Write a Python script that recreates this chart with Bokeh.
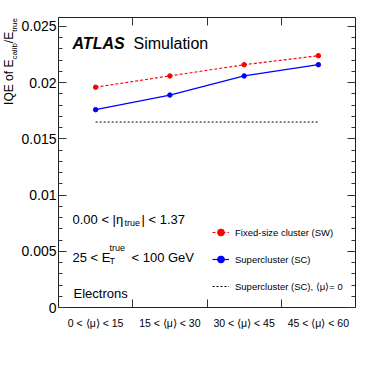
import numpy as np
from bokeh.plotting import figure
from bokeh.layouts import row
from bokeh.models import (Range1d, LinearAxis, FixedTicker, CustomJSTickFormatter,
                          Label, Legend, LegendItem, Div)
from bokeh.embed import file_html
from bokeh.resources import INLINE

# ---- data ----
categories = ["0 < \u27e8\u03bc\u27e9 < 15", "15 < \u27e8\u03bc\u27e9 < 30",
              "30 < \u27e8\u03bc\u27e9 < 45", "45 < \u27e8\u03bc\u27e9 < 60"]
sw_iqe = [0.0196, 0.0206, 0.0216, 0.0224]
sc_iqe = [0.0176, 0.0189, 0.0206, 0.0216]
sc_mu0_iqe = [0.0165, 0.0165, 0.0165, 0.0165]
y_ticks = [0, 0.005, 0.01, 0.015, 0.02, 0.025]
y_minor = [round(i * 0.001, 3) for i in range(26)]

x = [i + 0.5 for i in range(len(categories))]
bounds = list(range(1, len(categories)))

FONT = "Liberation Sans"
DIV_W = 18
AXIS_W = 42          # actual width taken by the left axis panel
W, H = 354, 345
ML, MR, MT, MB = 38, 17, 17, 38
FL = DIV_W + AXIS_W  # frame left, page px (template has no body margin)
FB = H - MB          # frame bottom, page px

p = figure(width=W, height=H, x_range=Range1d(0, len(categories)), y_range=Range1d(0, 0.0258),
           output_backend="svg", toolbar_location=None,
           x_axis_location=None, y_axis_location=None,
           min_border_left=ML, min_border_right=MR, min_border_top=MT, min_border_bottom=MB)
p.xgrid.visible = False
p.ygrid.visible = False
p.outline_line_color = "#222222"
p.outline_line_width = 1
p.background_fill_color = "white"
p.border_fill_color = "white"

blank = CustomJSTickFormatter(code="return ''")

def x_axis(with_labels):
    ax = LinearAxis(ticker=FixedTicker(ticks=x, minor_ticks=bounds),
                    axis_line_color=None, major_tick_line_color=None,
                    minor_tick_in=8, minor_tick_out=0, minor_tick_line_color="#333333",
                    major_label_text_font=FONT, major_label_text_font_size="10.5px",
                    major_label_text_color="black", major_label_standoff=3)
    if with_labels:
        ax.formatter = CustomJSTickFormatter(args=dict(labels=categories),
                                             code="return labels[Math.floor(tick)]")
    else:
        ax.formatter = blank
        ax.major_label_standoff = 0
    return ax

def y_axis(with_labels):
    ax = LinearAxis(ticker=FixedTicker(ticks=y_ticks, minor_ticks=y_minor),
                    axis_line_color=None,
                    major_tick_in=8, major_tick_out=0, major_tick_line_color="#333333",
                    minor_tick_in=4, minor_tick_out=0, minor_tick_line_color="#333333",
                    major_label_text_font=FONT, major_label_text_font_size="14px",
                    major_label_text_color="black", major_label_standoff=2)
    if with_labels:
        ax.formatter = CustomJSTickFormatter(code="return tick.toString()")
    else:
        ax.formatter = blank
        ax.major_label_standoff = 0
    return ax

p.add_layout(x_axis(True), "below")
p.add_layout(x_axis(False), "above")
p.add_layout(y_axis(True), "left")
p.add_layout(y_axis(False), "right")

# ---- series ----
r_sw_l = p.line(x, sw_iqe, line_color="red", line_dash="3 2", line_width=1.2)
r_sw_p = p.scatter(x, sw_iqe, size=4.5, color="red")
r_sc_l = p.line(x, sc_iqe, line_color="blue", line_width=1.2)
r_sc_p = p.scatter(x, sc_iqe, size=4.5, color="blue")
r_mu0 = p.line(x, sc_mu0_iqe, line_color="black", line_dash="2 2", line_width=1)

legend = Legend(items=[
    LegendItem(label="Fixed-size cluster (SW)", renderers=[r_sw_l, r_sw_p]),
    LegendItem(label="Supercluster (SC)", renderers=[r_sc_l, r_sc_p]),
    LegendItem(label="Supercluster (SC), \u27e8\u03bc\u27e9= 0", renderers=[r_mu0]),
], location=(154, 11), border_line_color=None, background_fill_alpha=0,
   label_text_font=FONT, label_text_font_size="9.5px", label_text_color="black",
   glyph_width=17, glyph_height=20, label_height=20, spacing=7,
   padding=0, margin=0, label_standoff=6)
p.add_layout(legend)

def txt(text, px, py, size, style="normal"):
    p.add_layout(Label(x=px - FL, y=FB - py, x_units="screen", y_units="screen",
                       text=text, text_font=FONT, text_font_size=f"{size}px",
                       text_font_style=style, text_align="left",
                       text_baseline="alphabetic", text_color="black"))

# ATLAS label
txt("ATLAS", 74, 43.3, 16, style="bold italic")
txt("Simulation", 135, 43.3, 16)

# eta range
txt("0.00 < |\u03b7", 74, 219, 13)
txt("true", 126, 222.5, 9)
txt("| < 1.37", 143, 219, 13)

# ET range
txt("25 < E", 74, 256.5, 13)
txt("T", 111, 260, 9)
txt("true", 111, 247.5, 9)
txt("< 100 GeV", 133, 256.5, 13)

txt("Electrons", 75, 292.5, 13)

# rotated y-axis title (HTML text with subscripts), right-aligned to frame top
sub = "font-size:8px; vertical-align:-4px;"
ytitle = Div(
    width=DIV_W, height=H,
    text=(
        '<div style="width:100px; height:14px; line-height:14px; white-space:nowrap; '
        "text-align:right; font-family:'Liberation Sans'; font-size:12px; color:black; "
        'transform-origin:0 0; transform:translate(2px, 117px) rotate(-90deg);">'
        f'IQE of E<span style="{sub}">calib</span>/E<span style="{sub}">true</span></div>'
    ),
    styles={"margin": "0", "padding": "0", "overflow": "visible"},
)

layout = row(ytitle, p, spacing=0)
open("out.html", "w").write(file_html(layout, INLINE))
